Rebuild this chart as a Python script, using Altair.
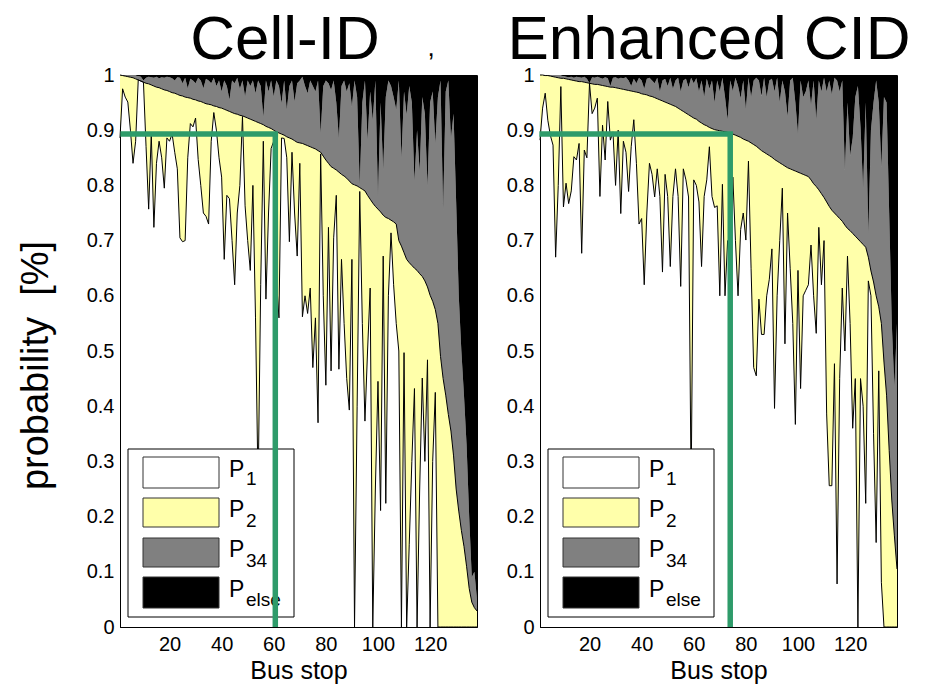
import altair as alt
import pandas as pd

FONT = "Liberation Sans"

stops = list(range(1, 139))

# ---------- Cell-ID : cumulative probabilities ----------
cid_p1 = [
    0.886, 0.975, 0.960, 0.951, 0.900, 0.840, 0.880, 0.991, 0.989, 0.987,
    0.870, 0.757, 0.893, 0.724, 0.840, 0.880, 0.850, 0.795, 0.886, 0.880,
    0.893, 0.860, 0.830, 0.705, 0.698, 0.700, 0.850, 0.912, 0.906, 0.922,
    0.847, 0.800, 0.750, 0.744, 0.730, 0.880, 0.932, 0.900, 0.850, 0.815,
    0.666, 0.782, 0.776, 0.700, 0.620, 0.750, 0.800, 0.925, 0.763, 0.700,
    0.646, 0.800, 0.560, 0.250, 0.620, 0.880, 0.594, 0.750, 0.867, 0.880,
    0.633, 0.560, 0.886, 0.885, 0.850, 0.698, 0.860, 0.750, 0.672, 0.840,
    0.562, 0.600, 0.568, 0.614, 0.470, 0.560, 0.370, 0.857, 0.600, 0.438,
    0.724, 0.464, 0.705, 0.782, 0.467, 0.666, 0.550, 0.450, 0.393, 0.666,
    0.000, 0.400, 0.789, 0.550, 0.373, 0.500, 0.614, 0.000, 0.250, 0.445,
    0.211, 0.672, 0.224, 0.600, 0.714, 0.620, 0.550, 0.500, 0.000, 0.497,
    0.000, 0.150, 0.300, 0.432, 0.000, 0.250, 0.451, 0.300, 0.484, 0.000,
    0.300, 0.425, 0.000, 0.000, 0.000, 0.000, 0.000, 0.000, 0.000, 0.000,
    0.000, 0.000, 0.000, 0.000, 0.000, 0.000, 0.000, 0.000,
]
cid_p12 = [
    1.000, 0.999, 0.998, 0.997, 0.996, 0.995, 0.993, 0.991, 0.989, 0.987,
    0.985, 0.984, 0.982, 0.980, 0.978, 0.977, 0.975, 0.973, 0.972, 0.970,
    0.968, 0.967, 0.965, 0.963, 0.962, 0.960, 0.959, 0.958, 0.956, 0.955,
    0.953, 0.952, 0.950, 0.948, 0.947, 0.946, 0.944, 0.943, 0.941, 0.940,
    0.938, 0.936, 0.934, 0.932, 0.930, 0.929, 0.927, 0.926, 0.924, 0.922,
    0.920, 0.918, 0.916, 0.914, 0.912, 0.910, 0.907, 0.905, 0.903, 0.900,
    0.897, 0.895, 0.893, 0.891, 0.888, 0.886, 0.884, 0.881, 0.878, 0.877,
    0.876, 0.874, 0.872, 0.870, 0.868, 0.866, 0.863, 0.860, 0.853, 0.846,
    0.840, 0.834, 0.831, 0.828, 0.824, 0.820, 0.817, 0.813, 0.808, 0.803,
    0.801, 0.799, 0.796, 0.793, 0.790, 0.782, 0.775, 0.768, 0.762, 0.757,
    0.752, 0.746, 0.742, 0.740, 0.737, 0.734, 0.730, 0.700, 0.690, 0.678,
    0.666, 0.660, 0.655, 0.650, 0.646, 0.640, 0.635, 0.627, 0.616, 0.601,
    0.590, 0.575, 0.550, 0.490, 0.450, 0.420, 0.385, 0.355, 0.310, 0.250,
    0.210, 0.175, 0.146, 0.110, 0.070, 0.045, 0.035, 0.029,
]
cid_p123 = [
    1.000, 1.000, 1.000, 1.000, 1.000, 1.000, 1.000, 0.998, 0.997, 0.990,
    0.995, 0.997, 0.996, 0.995, 0.997, 0.994, 0.996, 0.995, 0.997, 0.996,
    0.994, 0.990, 0.996, 0.995, 0.985, 0.995, 0.976, 0.993, 0.990, 0.985,
    0.995, 0.990, 0.976, 0.993, 0.990, 0.985, 0.995, 0.980, 0.990, 0.970,
    0.990, 0.980, 0.955, 0.990, 0.985, 0.995, 0.975, 0.990, 0.961, 0.990,
    0.980, 0.990, 0.967, 0.990, 0.980, 0.924, 0.990, 0.970, 0.990, 0.961,
    0.990, 0.980, 0.949, 0.990, 0.937, 0.980, 0.990, 0.952, 0.985, 0.990,
    0.997, 0.980, 0.967, 0.990, 0.980, 0.970, 0.990, 0.894, 0.980, 0.990,
    0.985, 0.973, 0.990, 0.950, 0.885, 0.980, 0.990, 0.970, 0.985, 0.943,
    0.990, 0.960, 0.800, 0.950, 0.990, 0.882, 0.970, 0.918, 0.990, 0.780,
    0.950, 0.828, 0.960, 0.990, 0.980, 0.960, 0.937, 0.990, 0.849, 0.970,
    0.928, 0.980, 0.950, 0.807, 0.900, 0.825, 0.960, 0.930, 0.798, 0.950,
    0.970, 0.876, 0.960, 0.990, 0.755, 0.970, 0.990, 0.885, 0.930, 0.770,
    0.600, 0.500, 0.420, 0.330, 0.200, 0.090, 0.100, 0.050,
]

# ---------- Enhanced CID : cumulative probabilities ----------
ecid_p1 = [
    0.882, 0.940, 0.967, 0.918, 0.890, 0.873, 0.670, 0.800, 0.979, 0.761,
    0.804, 0.767, 0.790, 0.852, 0.846, 0.876, 0.677, 0.864, 0.850, 0.985,
    0.930, 0.940, 0.958, 0.780, 0.909, 0.846, 0.952, 0.882, 0.897, 0.800,
    0.900, 0.749, 0.880, 0.860, 0.789, 0.870, 0.919, 0.840, 0.730, 0.740,
    0.620, 0.750, 0.840, 0.820, 0.779, 0.830, 0.780, 0.643, 0.820, 0.780,
    0.653, 0.780, 0.830, 0.780, 0.617, 0.830, 0.810, 0.779, 0.250, 0.810,
    0.800, 0.770, 0.653, 0.780, 0.810, 0.870, 0.780, 0.760, 0.763, 0.600,
    0.802, 0.600, 0.700, 0.650, 0.815, 0.700, 0.600, 0.720, 0.750, 0.701,
    0.844, 0.650, 0.470, 0.455, 0.594, 0.530, 0.530, 0.600, 0.630, 0.685,
    0.396, 0.600, 0.700, 0.795, 0.513, 0.750, 0.650, 0.550, 0.367, 0.646,
    0.432, 0.600, 0.610, 0.620, 0.692, 0.600, 0.532, 0.724, 0.620, 0.700,
    0.386, 0.256, 0.256, 0.477, 0.078, 0.450, 0.614, 0.500, 0.672, 0.550,
    0.360, 0.450, 0.000, 0.450, 0.400, 0.224, 0.627, 0.600, 0.350, 0.153,
    0.464, 0.081, 0.000, 0.000, 0.000, 0.000, 0.000, 0.000,
]
ecid_p12 = [
    1.000, 1.000, 0.999, 0.999, 0.998, 0.997, 0.996, 0.995, 0.994, 0.994,
    0.993, 0.992, 0.991, 0.990, 0.989, 0.988, 0.988, 0.987, 0.986, 0.985,
    0.984, 0.983, 0.983, 0.982, 0.981, 0.980, 0.979, 0.978, 0.978, 0.977,
    0.976, 0.975, 0.974, 0.973, 0.972, 0.971, 0.970, 0.969, 0.968, 0.966,
    0.965, 0.964, 0.962, 0.961, 0.959, 0.957, 0.955, 0.953, 0.951, 0.949,
    0.947, 0.945, 0.943, 0.940, 0.937, 0.934, 0.931, 0.928, 0.925, 0.922,
    0.920, 0.916, 0.913, 0.910, 0.908, 0.905, 0.903, 0.901, 0.900, 0.899,
    0.898, 0.897, 0.896, 0.894, 0.893, 0.891, 0.889, 0.887, 0.884, 0.882,
    0.880, 0.877, 0.874, 0.871, 0.867, 0.863, 0.860, 0.857, 0.854, 0.851,
    0.847, 0.844, 0.841, 0.838, 0.835, 0.832, 0.830, 0.828, 0.826, 0.824,
    0.822, 0.820, 0.818, 0.816, 0.810, 0.803, 0.798, 0.792, 0.785, 0.778,
    0.770, 0.762, 0.755, 0.750, 0.745, 0.740, 0.735, 0.728, 0.722, 0.718,
    0.713, 0.708, 0.703, 0.698, 0.693, 0.688, 0.670, 0.645, 0.625, 0.600,
    0.580, 0.550, 0.480, 0.420, 0.320, 0.230, 0.165, 0.105,
]
ecid_p123 = [
    1.000, 1.000, 1.000, 1.000, 1.000, 1.000, 1.000, 1.000, 1.000, 0.998,
    0.997, 0.996, 0.997, 0.995, 0.997, 0.996, 0.995, 0.997, 0.993, 0.985,
    0.996, 0.995, 0.997, 0.995, 0.993, 0.996, 0.994, 0.980, 0.995, 0.996,
    0.993, 0.995, 0.994, 0.996, 0.990, 0.980, 0.993, 0.985, 0.995, 0.990,
    0.975, 0.993, 0.995, 0.990, 0.985, 0.995, 0.970, 0.990, 0.993, 0.980,
    0.995, 0.975, 0.990, 0.995, 0.970, 0.990, 0.993, 0.978, 0.995, 0.985,
    0.994, 0.970, 0.990, 0.960, 0.993, 0.975, 0.990, 0.950, 0.990, 0.970,
    0.995, 0.960, 0.919, 0.990, 0.971, 0.995, 0.980, 0.958, 0.990, 0.938,
    0.995, 0.960, 0.990, 0.995, 0.990, 0.962, 0.995, 0.960, 0.990, 0.993,
    0.970, 0.995, 0.951, 0.990, 0.970, 0.925, 0.990, 0.995, 0.950, 0.893,
    0.990, 0.960, 0.970, 0.990, 0.945, 0.990, 0.919, 0.990, 0.970, 0.995,
    0.970, 0.990, 0.965, 0.995, 0.990, 0.970, 0.990, 0.828, 0.950, 0.854,
    0.886, 0.960, 0.980, 0.906, 0.795, 0.950, 0.711, 0.900, 0.950, 0.990,
    0.950, 0.834, 0.960, 0.950, 0.750, 0.550, 0.435, 0.550,
]

x_ticks = [20, 40, 60, 80, 100, 120]
y_ticks = [0, 0.1, 0.2, 0.3, 0.4, 0.5, 0.6, 0.7, 0.8, 0.9, 1]

legend_main = ["P", "P", "P", "P"]
legend_sub = ["1", "2", "34", "else"]
legend_fill = ["#ffffff", "#ffffaa", "#808080", "#000000"]

green_level = 0.893
cid_green = [2.2, 60.6]
ecid_green = [1.8, 74.0]

YELLOW = "#ffffaa"
GRAY = "#808080"
GREEN = "#2e9b6a"
W, H = 357, 552


def panel(title, title_cx, p1, p12, p123, green, ytitle, comma=False):
    df = pd.DataFrame({"stop": stops, "p1": p1, "p12": p12, "p123": p123})
    df["top"] = 1.0
    xs = alt.Scale(domain=[1, 138], nice=False, zero=False)
    ys = alt.Scale(domain=[0, 1], nice=False)
    xa = alt.Axis(values=x_ticks, title="Bus stop", ticks=False, grid=False,
                  labelFontSize=20, labelPadding=7, titleFontSize=25,
                  titlePadding=4, titleFontWeight="normal", domainColor="#000",
                  labelColor="#000", titleColor="#000", labelFlush=False)
    yargs = dict(values=y_ticks, format=".1~f", ticks=False, grid=False,
                 labelFontSize=20, labelPadding=6, domainColor="#000",
                 labelColor="#000", titleColor="#000")
    if ytitle:
        ya = alt.Axis(title="probability\u00a0\u00a0[%]", titleFontSize=38,
                      titleFontWeight="normal", titleX=-84, titleY=290,
                      titleAlign="center", titleBaseline="middle",
                      titleAngle=270, **yargs)
    else:
        ya = alt.Axis(title=None, **yargs)

    base = alt.Chart(df)
    X = alt.X("stop:Q", scale=xs, axis=xa)
    yellow = base.mark_area(color=YELLOW, opacity=1).encode(
        x=X, y=alt.Y("p1:Q", scale=ys, axis=ya), y2="p12:Q")
    gray = base.mark_area(color=GRAY, opacity=1).encode(
        x=X, y=alt.Y("p12:Q", scale=ys, axis=ya), y2="p123:Q")
    black = base.mark_area(color="#000000", opacity=1).encode(
        x=X, y=alt.Y("p123:Q", scale=ys, axis=ya), y2="top:Q")
    line1 = base.mark_line(color="#000000", strokeWidth=1).encode(
        x=X, y=alt.Y("p1:Q", scale=ys, axis=ya))
    line2 = base.mark_line(color="#000000", strokeWidth=1).encode(
        x=X, y=alt.Y("p12:Q", scale=ys, axis=ya))

    one = alt.Chart(pd.DataFrame({"k": [0]}))
    layers = [yellow, gray, black, line1, line2]

    # legend (drawn box, patches and sub-scripted labels)
    layers.append(one.mark_rect(fill="#ffffff", stroke="#000000", strokeWidth=1).encode(
        x=alt.value(8), x2=alt.value(174), y=alt.value(374), y2=alt.value(542)))
    row_top = [382, 423, 463, 502]
    row_h = [31, 29, 29, 31]
    p_base = [402, 442, 482, 522]
    s_base = [410, 452, 492, 531]
    for i in range(4):
        layers.append(one.mark_rect(fill=legend_fill[i], stroke="#333333", strokeWidth=1).encode(
            x=alt.value(23), x2=alt.value(99), y=alt.value(row_top[i]),
            y2=alt.value(row_top[i] + row_h[i])))
        layers.append(one.mark_text(text=legend_main[i], fontSize=23, align="left",
                                    baseline="alphabetic", color="#000").encode(
            x=alt.value(109), y=alt.value(p_base[i])))
        layers.append(one.mark_text(text=legend_sub[i], fontSize=19, align="left",
                                    baseline="alphabetic", color="#000").encode(
            x=alt.value(126), y=alt.value(s_base[i])))

    gdf = pd.DataFrame({"x0": [green[0]], "x1": [green[1]],
                        "y0": [0.0], "y1": [green_level]})
    g = alt.Chart(gdf)
    layers.append(g.mark_rule(color=GREEN, strokeWidth=5.5, strokeCap="square").encode(
        x=alt.X("x0:Q", scale=xs, axis=xa), x2="x1:Q",
        y=alt.Y("y1:Q", scale=ys, axis=ya)))
    layers.append(g.mark_rule(color=GREEN, strokeWidth=5.5, strokeCap="butt").encode(
        x=alt.X("x1:Q", scale=xs, axis=xa),
        y=alt.Y("y0:Q", scale=ys, axis=ya), y2="y1:Q"))

    # panel title as text
    layers.append(one.mark_text(text=title, fontSize=62, align="center",
                                baseline="alphabetic", color="#000").encode(
        x=alt.value(title_cx), y=alt.value(-16)))
    if comma:
        layers.append(one.mark_text(text=",", fontSize=26, color="#000").encode(
            x=alt.value(311), y=alt.value(-27)))

    return alt.layer(*layers).properties(width=W, height=H)


left = panel("Cell-ID", 165, cid_p1, cid_p12, cid_p123, cid_green, True, comma=True)
right = panel("Enhanced CID", 169, ecid_p1, ecid_p12, ecid_p123, ecid_green, False)

chart = alt.hconcat(left, right, spacing=63, bounds="flush").properties(
    padding={"left": 8, "top": 0, "right": 0, "bottom": 0}
).configure(font=FONT).configure_view(stroke="#000000", strokeWidth=1)

chart.save("out.html", embed_options={"renderer": "svg", "actions": False})
